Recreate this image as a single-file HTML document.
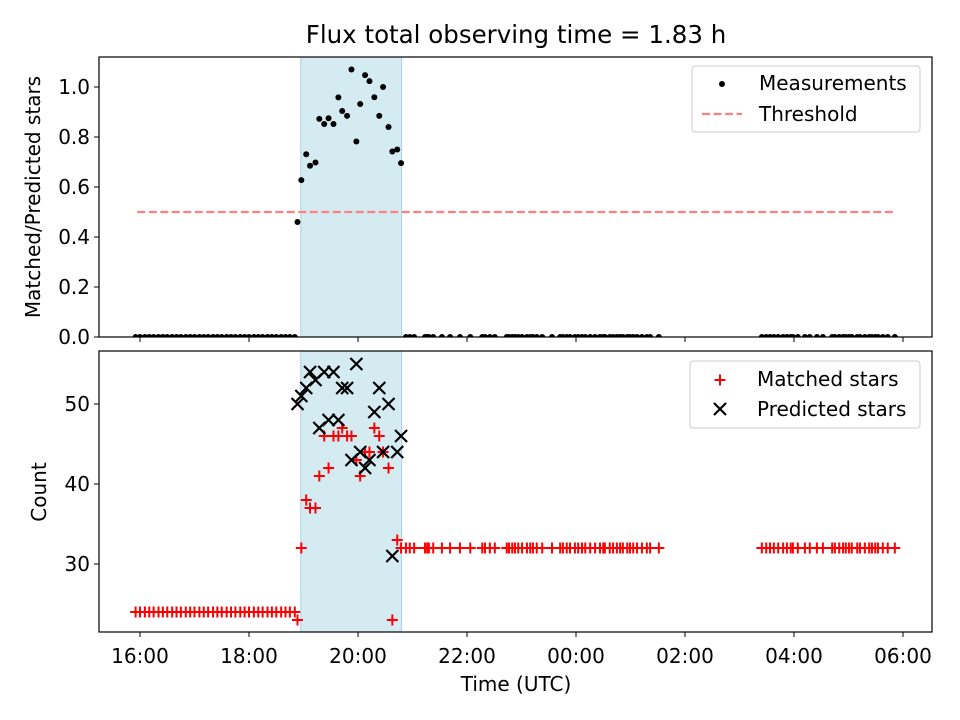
<!DOCTYPE html>
<html><head><meta charset="utf-8"><style>
html,body{margin:0;padding:0;background:#fff;}
svg{display:block;font-family:"DejaVu Sans","Liberation Sans",sans-serif;}
</style></head><body>
<svg id="chart" width="960" height="720" viewBox="0 0 960 720"></svg>
<script>
// ---- data ----
const preTimes = [15.92,16.00,16.09,16.17,16.25,16.34,16.42,16.50,16.59,16.67,16.75,16.84,16.92,17.00,17.09,17.17,17.25,17.34,17.42,17.50,17.59,17.67,17.75,17.84,17.92,18.00,18.09,18.17,18.25,18.34,18.42,18.50,18.59,18.67,18.75,18.84];
const preMatched = [24,24,24,24,24,24,24,24,24,24,24,24,24,24,24,24,24,24,24,24,24,24,24,24,24,24,24,24,24,24,24,24,24,24,24,24];
const eventTimes = [18.89,18.96,19.05,19.12,19.22,19.29,19.38,19.46,19.55,19.64,19.71,19.80,19.88,19.97,20.04,20.13,20.21,20.30,20.39,20.46,20.56,20.63,20.72,20.79];
const eventPredicted = [50,51,52,54,53,47,54,48,54,48,52,52,43,55,44,42,43,49,52,44,50,31,44,46];
const eventMatched = [23,32,38,37,37,41,46,42,46,46,47,46,46,43,41,44,44,47,46,44,42,23,33,32];
const postTimes = [20.88,20.95,21.03,21.23,21.27,21.30,21.38,21.54,21.69,21.87,22.06,22.28,22.33,22.42,22.51,22.73,22.77,22.83,22.88,22.94,23.01,23.10,23.16,23.21,23.28,23.38,23.56,23.71,23.76,23.83,23.89,23.98,24.04,24.11,24.17,24.26,24.35,24.44,24.50,24.53,24.62,24.68,24.75,24.81,24.86,24.94,24.99,25.05,25.12,25.21,25.30,25.36,25.52,
27.41,27.49,27.56,27.63,27.71,27.80,27.87,27.94,27.98,28.07,28.20,28.29,28.42,28.53,28.70,28.75,28.83,28.90,28.95,29.01,29.06,29.16,29.21,29.30,29.38,29.43,29.49,29.54,29.63,29.72,29.85];
const postMatched = [32,32,32,32,32,32,32,32,32,32,32,32,32,32,32,32,32,32,32,32,32,32,32,32,32,32,32,32,32,32,32,32,32,32,32,32,32,32,32,32,32,32,32,32,32,32,32,32,32,32,32,32,32,
32,32,32,32,32,32,32,32,32,32,32,32,32,32,32,32,32,32,32,32,32,32,32,32,32,32,32,32,32,32,32];
const baselineRatio = 0;
const threshold = 0.5;
const thresholdRange = [15.95, 29.85];
const spanRange = [18.95, 20.80];
const xTickHours = [16,18,20,22,24,26,28,30];
const xTickLabels = ["16:00","18:00","20:00","22:00","00:00","02:00","04:00","06:00"];
const topTicks = [0.0,0.2,0.4,0.6,0.8,1.0];
const topTickLabels = ["0.0","0.2","0.4","0.6","0.8","1.0"];
const botTicks = [30,40,50];
const botTickLabels = ["30","40","50"];

// ---- axes ----
const L=99,R=932,T1=57,B1=337,T2=351,B2=632;
const FS=20;
const xs = h => 140 + (h-16)*54.5;
const yTop = v => 337 - v*250;
const yBot = c => 564 - (c-30)*8;
const NS="http://www.w3.org/2000/svg";
const svg=document.getElementById('chart');
function mk(tag,attrs,parent){const e=document.createElementNS(NS,tag);for(const k in attrs)e.setAttribute(k,attrs[k]);(parent||svg).appendChild(e);return e;}

const defs=mk('defs',{});
const c1=mk('clipPath',{id:'c1'},defs);mk('rect',{x:L,y:T1,width:R-L,height:B1-T1},c1);
const c2=mk('clipPath',{id:'c2'},defs);mk('rect',{x:L,y:T2,width:R-L,height:B2-T2},c2);

let t=mk('text',{x:516,y:43,'text-anchor':'middle','font-size':'24.5'});t.textContent='Flux total observing time = 1.83 h';



const gTop=mk('g',{'clip-path':'url(#c1)'});


const gBot=mk('g',{'clip-path':'url(#c2)'});



[[gTop,T1,B1],[gBot,T2,B2]].forEach(([g,a,b],i)=>{
  const r=mk('rect',{x:xs(spanRange[0]),y:a,width:xs(spanRange[1])-xs(spanRange[0]),height:b-a,fill:'#d5ebf2',stroke:'#a9d3e2','stroke-width':1},g);
  
  
});

const th=mk('line',{x1:xs(thresholdRange[0]),x2:xs(thresholdRange[1]),y1:yTop(threshold),y2:yTop(threshold),stroke:'#ff8080','stroke-width':2.2,'stroke-dasharray':'8,3.5'},gTop);



function dot(h,v){const c=mk('circle',{cx:xs(h),cy:yTop(v),r:3,fill:'#000'},gTop);
  
  }
preTimes.forEach(h=>dot(h,baselineRatio));
eventTimes.forEach((h,i)=>dot(h,eventMatched[i]/eventPredicted[i]));
postTimes.forEach(h=>dot(h,baselineRatio));

function plus(h,c){const x=xs(h),y=yBot(c);const p=mk('path',{d:`M${x-5.5},${y}H${x+5.5}M${x},${y-5.5}V${y+5.5}`,stroke:'#ff0000','stroke-width':2,fill:'none'},gBot);
  
  }
function cross(h,c){const x=xs(h),y=yBot(c);const p=mk('path',{d:`M${x-6},${y-6}L${x+6},${y+6}M${x-6},${y+6}L${x+6},${y-6}`,stroke:'#000','stroke-width':2.2,fill:'none'},gBot);
  
  }
preTimes.forEach((h,i)=>plus(h,preMatched[i]));
postTimes.forEach((h,i)=>plus(h,postMatched[i]));
eventTimes.forEach((h,i)=>plus(h,eventMatched[i]));
eventTimes.forEach((h,i)=>cross(h,eventPredicted[i]));

[[T1,B1],[T2,B2]].forEach(([a,b],i)=>{const r=mk('rect',{x:L,y:a,width:R-L,height:b-a,fill:'none',stroke:'#000','stroke-width':1.2});
  
  });

xTickHours.forEach((h,i)=>{
  const x=xs(h);
  mk('line',{x1:x,x2:x,y1:B1,y2:B1+5,stroke:'#000'});
  mk('line',{x1:x,x2:x,y1:B2,y2:B2+5,stroke:'#000'});
  const tx=mk('text',{x:x,y:B2+31,'text-anchor':'middle','font-size':FS});tx.textContent=xTickLabels[i];
  
  
});
topTicks.forEach((v,i)=>{const y=yTop(v);mk('line',{x1:L-5,x2:L,y1:y,y2:y,stroke:'#000'});
  const tx=mk('text',{x:L-9,y:y+7,'text-anchor':'end','font-size':FS});tx.textContent=topTickLabels[i];
  
  });
botTicks.forEach((v,i)=>{const y=yBot(v);mk('line',{x1:L-5,x2:L,y1:y,y2:y,stroke:'#000'});
  const tx=mk('text',{x:L-9,y:y+7,'text-anchor':'end','font-size':FS});tx.textContent=botTickLabels[i];
  
  });

let a=mk('text',{x:516,y:691,'text-anchor':'middle','font-size':FS});a.textContent='Time (UTC)';


a=mk('text',{x:40,y:197,'text-anchor':'middle','font-size':FS,transform:'rotate(-90 40 197)'});a.textContent='Matched/Predicted stars';


a=mk('text',{x:46,y:492,'text-anchor':'middle','font-size':FS,transform:'rotate(-90 46 492)'});a.textContent='Count';



let lg=mk('g',{});


mk('rect',{x:692,y:66,width:228,height:66,rx:3,fill:'#fff','fill-opacity':0.8,stroke:'#ccc'},lg);
mk('circle',{cx:722,cy:84,r:3,fill:'#000'},lg);
mk('line',{x1:702,x2:742,y1:114,y2:114,stroke:'#ff8080','stroke-width':2.2,'stroke-dasharray':'8,3.5'},lg);
let e=mk('text',{x:759,y:90,'font-size':FS},lg);e.textContent='Measurements';


e=mk('text',{x:759,y:121,'font-size':FS},lg);e.textContent='Threshold';



lg=mk('g',{});


mk('rect',{x:690,y:361,width:230,height:67,rx:3,fill:'#fff','fill-opacity':0.8,stroke:'#ccc'},lg);
mk('path',{d:'M714.5,380H725.5M720,374.5V385.5',stroke:'#ff0000','stroke-width':2},lg);
mk('path',{d:'M714,403L726,415M714,415L726,403',stroke:'#000','stroke-width':2.2},lg);
e=mk('text',{x:757,y:386,'font-size':FS},lg);e.textContent='Matched stars';


e=mk('text',{x:757,y:416,'font-size':FS},lg);e.textContent='Predicted stars';


</script>
</body></html>
